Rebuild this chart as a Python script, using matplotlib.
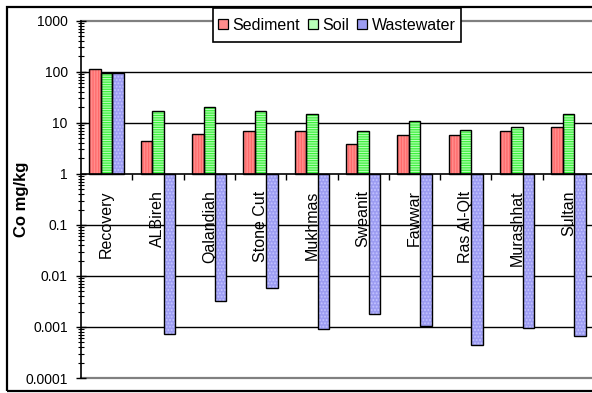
import matplotlib
matplotlib.use("Agg")
import matplotlib.pyplot as plt
from matplotlib.patches import Rectangle, Patch
from matplotlib.ticker import FixedLocator, FuncFormatter, NullFormatter
import numpy as np

plt.rcParams['font.family'] = ['Liberation Sans', 'DejaVu Sans']
plt.rcParams['hatch.linewidth'] = 0.9

sites = ["Recovery", "ALBireh", "Qalandiah", "Stone Cut", "Mukhmas",
         "Sweanit", "Fawwar", "Ras Al-Qlt", "Murashhat", "Sultan"]
sediment = [113, 4.4, 6.0, 6.9, 6.9, 3.9, 5.75, 5.75, 6.9, 8.4]
soil = [95, 16.7, 20.6, 16.7, 14.8, 6.9, 10.8, 7.3, 8.4, 14.8]
wastewater = [94, 0.00073, 0.0032, 0.0057, 0.0009, 0.0018, 0.00104,
              0.00045, 0.00097, 0.00067]
series_names = ["Sediment", "Soil", "Wastewater"]
decades = [1e-4, 1e-3, 1e-2, 1e-1, 1, 10, 100, 1000]

face_colors = ["#FF8C8C", "#B8FFB8", "#9C9CF2"]
hatch_colors = ["#FF6A6A", "#3CF03C", "#C4C4FF"]
hatches = ["||||||", "-------", "....."]

W, H = 592, 393
fig = plt.figure(figsize=(W / 100, H / 100), dpi=100)
ax = fig.add_axes([81 / W, 15 / H, 513 / W, 357.3 / H])

x = np.arange(len(sites))
bw = 0.224
base = 1.0
for i, (vals, fc, hc, ht) in enumerate(zip([sediment, soil, wastewater],
                                           face_colors, hatch_colors, hatches)):
    xs = x + (i - 1) * bw
    heights = np.array(vals) - base
    ax.bar(xs, heights, bottom=base, width=bw, color=fc, linewidth=0, zorder=3)
    ax.bar(xs, heights, bottom=base, width=bw, color="none", edgecolor=hc,
           hatch=ht, linewidth=0, zorder=3.1)
    ax.bar(xs, heights, bottom=base, width=bw, color="none", edgecolor="black",
           linewidth=1.0, zorder=3.2)

ax.set_yscale("log")
ax.set_ylim(decades[0], decades[-1])
ax.set_xlim(-0.5, len(sites) - 0.5)

# horizontal gridlines at the inner decades, grey frame lines at the ends
for v in decades[1:-1]:
    if v != base:
        ax.axhline(v, color="black", lw=1.0, zorder=1)
for v in (decades[0], decades[-1]):
    ax.axhline(v, color="#808080", lw=1.6, zorder=1, clip_on=False)

for s in ["top", "right"]:
    ax.spines[s].set_visible(False)
ax.spines["bottom"].set_position(("data", base))
ax.spines["bottom"].set_linewidth(1.2)
ax.spines["left"].set_linewidth(1.2)
ax.spines["bottom"].set_zorder(4)

# x axis: labels at category centres, tick marks between categories
ax.xaxis.set_major_locator(FixedLocator(x))
ax.set_xticklabels(sites, rotation=90, fontsize=11.5, va="top", ha="center")
ax.xaxis.set_minor_locator(FixedLocator(np.arange(0.5, len(sites) - 0.5, 1)))
ax.tick_params(axis="x", which="major", length=0, pad=12)
ax.tick_params(axis="x", which="minor", length=4, width=1.0, direction="out")

# y axis
minor = [m * d for d in decades[:-1] for m in range(2, 10)]
ax.yaxis.set_major_locator(FixedLocator(decades))
ax.yaxis.set_minor_locator(FixedLocator(minor))
ax.yaxis.set_major_formatter(FuncFormatter(lambda v, p: "%g" % v))
ax.yaxis.set_minor_formatter(NullFormatter())
ax.tick_params(axis="y", which="major", direction="inout", length=7, width=1.0,
               labelsize=10, pad=6)
ax.tick_params(axis="y", which="minor", direction="inout", length=4, width=0.8)

fig.text(22 / W, 1 - 199 / H, "Co mg/kg", rotation=90, fontsize=12,
         fontweight="bold", ha="center", va="center")

# outer chart border
fig.add_artist(Rectangle((7 / W, 2 / H), 1.2, (391 - 7) / H,
                         transform=fig.transFigure, fill=False,
                         edgecolor="black", lw=1.6, clip_on=False))

# legend box with its entries centred inside
fig.add_artist(Rectangle((213 / W, 1 - 42 / H), 248 / W, 34 / H,
                         transform=fig.transFigure, facecolor="white",
                         edgecolor="black", lw=1.2, zorder=5))
handles = [Patch(facecolor=fc, edgecolor="black", linewidth=0.9)
           for fc in face_colors]
leg = fig.legend(handles, series_names, loc="center",
                 bbox_to_anchor=(337 / W, 1 - 25 / H), ncol=3, fontsize=11.5,
                 frameon=False, borderaxespad=0, borderpad=0,
                 handlelength=0.6, handleheight=0.6,
                 handletextpad=0.3, columnspacing=0.5)
leg.set_zorder(6)

fig.savefig("out.png", dpi=100)
